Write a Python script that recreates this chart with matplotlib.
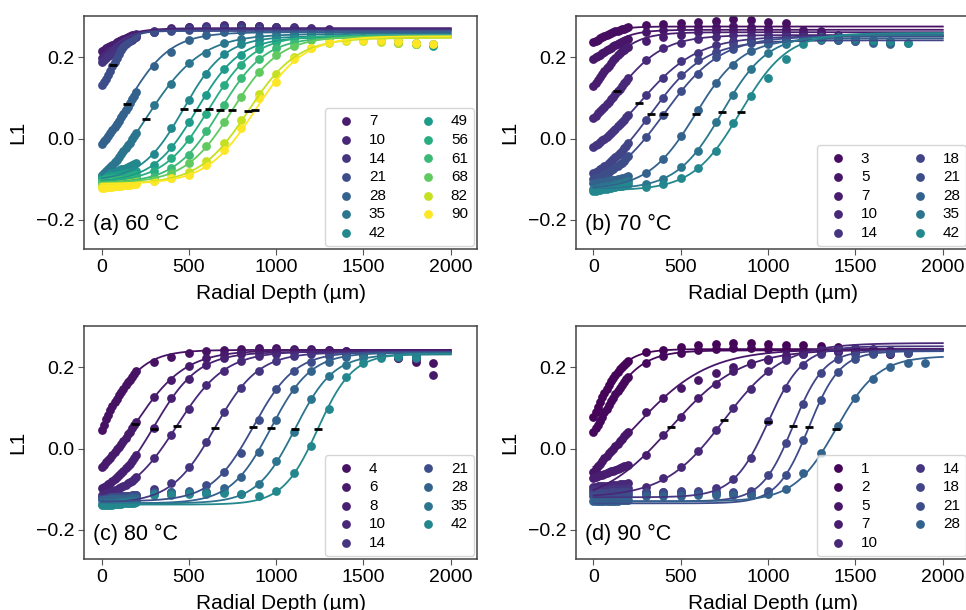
import numpy as np
import matplotlib
matplotlib.use("Agg")
import matplotlib.pyplot as plt

plt.rcParams['font.family'] = ['Liberation Sans', 'DejaVu Sans']

# measurement depths (um): dense scan near the surface, then every 100 um
DENSE_DEPTH = [0, 12.5, 25, 37.5, 50, 62.5, 75, 87.5, 100, 112.5, 125, 137.5,
               150, 162.5, 175, 187.5, 200]
SPARSE_DEPTH = [300, 400, 500, 600, 700, 800, 900, 1000, 1100, 1200,
                1300, 1400, 1500, 1600, 1700, 1800, 1900]

# ---------------- (a) 60 C ----------------
A_DAYS = [7, 10, 14, 21, 28, 35, 42, 49, 56, 61, 68, 82, 90]
A_DENSE = [
    [0.215, 0.219, 0.222, 0.225, 0.228, 0.231, 0.234, 0.237, 0.240, 0.243, 0.245, 0.248, 0.250, 0.252, 0.254, 0.256, 0.258],
    [0.198, 0.203, 0.207, 0.211, 0.215, 0.219, 0.223, 0.227, 0.230, 0.233, 0.236, 0.239, 0.242, 0.245, 0.247, 0.250, 0.252],
    [0.188, 0.193, 0.198, 0.203, 0.207, 0.212, 0.216, 0.220, 0.224, 0.228, 0.231, 0.235, 0.238, 0.241, 0.244, 0.247, 0.249],
    [0.132, 0.139, 0.147, 0.157, 0.167, 0.178, 0.188, 0.198, 0.208, 0.217, 0.225, 0.232, 0.238, 0.243, 0.248, 0.251, 0.254],
    [-0.013, -0.007, 0.000, 0.006, 0.013, 0.020, 0.028, 0.036, 0.044, 0.052, 0.061, 0.070, 0.079, 0.088, 0.097, 0.106, 0.114],
    [-0.090, -0.085, -0.080, -0.075, -0.069, -0.064, -0.058, -0.052, -0.045, -0.038, -0.031, -0.024, -0.017, -0.010, -0.002, 0.006, 0.014],
    [-0.092, -0.090, -0.088, -0.087, -0.085, -0.084, -0.082, -0.080, -0.078, -0.076, -0.074, -0.072, -0.070, -0.068, -0.065, -0.063, -0.060],
    [-0.098, -0.097, -0.095, -0.094, -0.093, -0.092, -0.091, -0.090, -0.089, -0.088, -0.087, -0.086, -0.085, -0.084, -0.082, -0.081, -0.079],
    [-0.102, -0.101, -0.100, -0.100, -0.099, -0.098, -0.097, -0.097, -0.096, -0.095, -0.094, -0.094, -0.093, -0.092, -0.091, -0.090, -0.089],
    [-0.106, -0.106, -0.105, -0.105, -0.104, -0.104, -0.103, -0.103, -0.102, -0.102, -0.101, -0.101, -0.100, -0.100, -0.099, -0.098, -0.097],
    [-0.110, -0.110, -0.109, -0.109, -0.108, -0.108, -0.107, -0.107, -0.106, -0.106, -0.105, -0.105, -0.104, -0.104, -0.103, -0.103, -0.102],
    [-0.116, -0.116, -0.115, -0.115, -0.114, -0.114, -0.113, -0.113, -0.112, -0.112, -0.111, -0.111, -0.110, -0.110, -0.109, -0.109, -0.108],
    [-0.122, -0.121, -0.120, -0.120, -0.119, -0.119, -0.118, -0.117, -0.116, -0.116, -0.115, -0.115, -0.114, -0.114, -0.113, -0.113, -0.112],
]
A_SPARSE = [
    [0.266, 0.272, 0.274, 0.276, 0.278, 0.279, 0.278, 0.276, 0.274, 0.272, 0.270],
    [0.262, 0.270, 0.274, 0.277, 0.280, 0.280, 0.278, 0.276, 0.272, 0.270],
    [0.262, 0.268, 0.272, 0.274, 0.276, 0.277, 0.276, 0.274, 0.272, 0.270, 0.268],
    [0.262, 0.266, 0.268, 0.270, 0.271, 0.270, 0.268, 0.266, 0.264],
    [0.178, 0.214, 0.242, 0.255, 0.262, 0.266, 0.268, 0.266, 0.264, 0.262, 0.260],
    [0.082, 0.135, 0.186, 0.212, 0.236, 0.246, 0.252, 0.256, 0.258, 0.258, 0.256,
     0.252, 0.248, 0.244, 0.240, 0.236, 0.232],
    [-0.038, 0.025, 0.094, 0.160, 0.208, 0.232, 0.244, 0.250, 0.254, 0.254, 0.252,
     0.250, 0.246, 0.242, 0.236, 0.232],
    [-0.066, -0.020, 0.042, 0.108, 0.172, 0.207, 0.232, 0.242, 0.248, 0.250, 0.250,
     0.248, 0.246, 0.242, 0.238, 0.232, 0.228],
    [-0.080, -0.048, 0.000, 0.060, 0.132, 0.182, 0.220, 0.238, 0.248, 0.252, 0.252,
     0.250, 0.246, 0.242, 0.238],
    [-0.094, -0.072, -0.040, 0.018, 0.082, 0.150, 0.196, 0.222, 0.238, 0.246, 0.250,
     0.248, 0.246, 0.242, 0.238, 0.234],
    [-0.100, -0.086, -0.060, -0.018, 0.040, 0.102, 0.164, 0.205, 0.228, 0.242, 0.248,
     0.250, 0.248],
    [-0.104, -0.096, -0.082, -0.055, -0.012, 0.045, 0.110, 0.158, 0.200, 0.224, 0.236,
     0.240, 0.240, 0.238, 0.236, 0.234],
    [-0.104, -0.098, -0.090, -0.064, -0.028, 0.025, 0.100, 0.140, 0.196, 0.222, 0.238,
     0.244, 0.244, 0.242, 0.240, 0.236, 0.234],
]
# sigmoid fit: (low, high, midpoint, width)
A_FIT = [(0.10, 0.272, -67, 96), (0.08, 0.270, -30, 90), (0.05, 0.268, -45, 80),
         (0.097, 0.265, 67, 50), (-0.09, 0.262, 145, 125), (-0.162, 0.258, 252, 160),
         (-0.105, 0.252, 470, 120), (-0.108, 0.250, 545, 125), (-0.108, 0.254, 615, 130),
         (-0.110, 0.250, 680, 130), (-0.110, 0.252, 750, 135), (-0.112, 0.248, 840, 140),
         (-0.112, 0.252, 880, 140)]
A_MID_X = [67, 145, 252, 470, 545, 615, 680, 750, 840, 880]
A_MID_Y = [0.181, 0.086, 0.048, 0.074, 0.071, 0.073, 0.070, 0.071, 0.068, 0.070]

# ---------------- (b) 70 C ----------------
B_DAYS = [3, 5, 7, 10, 14, 18, 21, 28, 35, 42]
B_DENSE = [
    [0.238, 0.241, 0.244, 0.247, 0.250, 0.253, 0.255, 0.258, 0.260, 0.262, 0.264, 0.266, 0.268, 0.270, 0.271, 0.273, 0.274],
    [0.196, 0.200, 0.203, 0.207, 0.210, 0.214, 0.217, 0.221, 0.224, 0.227, 0.230, 0.233, 0.236, 0.239, 0.241, 0.244, 0.246],
    [0.130, 0.137, 0.144, 0.152, 0.159, 0.166, 0.173, 0.180, 0.187, 0.193, 0.199, 0.205, 0.210, 0.215, 0.219, 0.223, 0.226],
    [0.050, 0.056, 0.062, 0.067, 0.072, 0.078, 0.084, 0.090, 0.097, 0.103, 0.110, 0.117, 0.123, 0.130, 0.136, 0.142, 0.148],
    [-0.020, -0.017, -0.013, -0.008, -0.004, 0.000, 0.005, 0.009, 0.014, 0.019, 0.024, 0.030, 0.035, 0.041, 0.046, 0.052, 0.057],
    [-0.085, -0.082, -0.079, -0.076, -0.072, -0.068, -0.064, -0.060, -0.055, -0.051, -0.046, -0.041, -0.036, -0.030, -0.024, -0.018, -0.012],
    [-0.100, -0.098, -0.096, -0.094, -0.091, -0.088, -0.085, -0.082, -0.078, -0.075, -0.071, -0.067, -0.063, -0.059, -0.054, -0.049, -0.044],
    [-0.110, -0.110, -0.109, -0.108, -0.107, -0.106, -0.105, -0.104, -0.103, -0.102, -0.101, -0.100, -0.099, -0.098, -0.096, -0.095, -0.093],
    [-0.124, -0.123, -0.122, -0.121, -0.120, -0.119, -0.118, -0.117, -0.116, -0.115, -0.113, -0.112, -0.110, -0.109, -0.107, -0.106, -0.104],
    [-0.128, -0.128, -0.127, -0.126, -0.125, -0.124, -0.123, -0.122, -0.121, -0.120, -0.119, -0.118, -0.117, -0.116, -0.114, -0.113, -0.112],
]
B_SPARSE = [
    [0.280, 0.282, 0.284, 0.286, 0.290, 0.294, 0.293, 0.288, 0.284],
    [0.262, 0.268, 0.272, 0.274, 0.276, 0.278, 0.276, 0.272, 0.270, 0.268, 0.266],
    [0.240, 0.250, 0.256, 0.262, 0.266, 0.268, 0.268, 0.266, 0.262, 0.260, 0.258, 0.256],
    [0.194, 0.222, 0.236, 0.246, 0.250, 0.254, 0.256, 0.256, 0.254, 0.252, 0.250,
     0.248, 0.246],
    [0.108, 0.150, 0.190, 0.212, 0.230, 0.240, 0.246, 0.250, 0.252, 0.250, 0.248, 0.246],
    [0.046, 0.100, 0.156, 0.194, 0.214, 0.232, 0.240, 0.244, 0.246, 0.246, 0.244,
     0.242, 0.240],
    [0.005, 0.058, 0.118, 0.160, 0.200, 0.220, 0.236, 0.242, 0.246, 0.248, 0.248,
     0.246, 0.244, 0.240, 0.236],
    [-0.086, -0.050, 0.006, 0.070, 0.138, 0.182, 0.215, 0.232, 0.240, 0.244, 0.246,
     0.244, 0.240, 0.236, 0.232],
    [-0.112, -0.100, -0.070, -0.030, 0.040, 0.108, 0.172, 0.210, 0.234, 0.246, 0.250,
     0.250, 0.248, 0.244, 0.240, 0.236],
    [-0.120, -0.112, -0.098, -0.072, -0.030, 0.038, 0.104, 0.150, 0.196, 0.232, 0.246,
     0.250, 0.248, 0.244, 0.240, 0.236],
]
B_FIT = [(0.17, 0.276, -30, 70), (0.10, 0.268, -10, 90), (0.02, 0.262, 20, 100),
         (-0.023, 0.255, 137, 133), (-0.078, 0.252, 261, 169), (-0.12, 0.242, 328, 155),
         (-0.13, 0.252, 404, 164), (-0.125, 0.247, 585, 135), (-0.125, 0.255, 737, 130),
         (-0.128, 0.260, 842, 135)]
B_MID_X = [137, 261, 328, 404, 585, 737, 842]
B_MID_Y = [0.116, 0.087, 0.061, 0.061, 0.061, 0.066, 0.066]

# ---------------- (c) 80 C ----------------
C_DAYS = [4, 6, 8, 10, 14, 21, 28, 35, 42]
C_DENSE = [
    [0.046, 0.059, 0.072, 0.083, 0.094, 0.104, 0.114, 0.123, 0.132, 0.140, 0.148, 0.156, 0.163, 0.170, 0.177, 0.184, 0.190],
    [-0.045, -0.040, -0.034, -0.028, -0.022, -0.016, -0.009, -0.002, 0.005, 0.012, 0.019, 0.027, 0.035, 0.042, 0.050, 0.058, 0.065],
    [-0.098, -0.095, -0.092, -0.088, -0.084, -0.080, -0.076, -0.071, -0.066, -0.061, -0.055, -0.049, -0.043, -0.037, -0.030, -0.023, -0.015],
    [-0.114, -0.112, -0.110, -0.109, -0.107, -0.105, -0.103, -0.101, -0.098, -0.095, -0.092, -0.089, -0.086, -0.083, -0.079, -0.075, -0.070],
    [-0.120, -0.120, -0.120, -0.119, -0.119, -0.119, -0.119, -0.118, -0.118, -0.118, -0.117, -0.117, -0.116, -0.116, -0.115, -0.115, -0.114],
    [-0.122, -0.122, -0.121, -0.121, -0.120, -0.120, -0.120, -0.119, -0.119, -0.119, -0.118, -0.118, -0.117, -0.117, -0.116, -0.116, -0.115],
    [-0.126, -0.126, -0.126, -0.126, -0.125, -0.125, -0.125, -0.124, -0.124, -0.124, -0.124, -0.123, -0.123, -0.122, -0.122, -0.121, -0.121],
    [-0.136, -0.136, -0.135, -0.135, -0.134, -0.134, -0.133, -0.133, -0.132, -0.132, -0.131, -0.131, -0.130, -0.130, -0.129, -0.129, -0.128],
    [-0.140, -0.140, -0.139, -0.139, -0.138, -0.138, -0.137, -0.137, -0.136, -0.136, -0.135, -0.135, -0.134, -0.134, -0.133, -0.133, -0.132],
]
C_SPARSE = [
    [0.214, 0.226, 0.236, 0.240, 0.244, 0.246, 0.248, 0.248, 0.246, 0.246, 0.244,
     0.240, 0.236, 0.230, 0.222, 0.214, 0.210],
    [0.128, 0.170, 0.204, 0.222, 0.232, 0.238, 0.242, 0.244, 0.244, 0.244, 0.242,
     0.240, 0.236, 0.232, 0.226, 0.220, 0.181],
    [0.050, 0.124, 0.172, 0.206, 0.224, 0.232, 0.236, 0.238, 0.240, 0.240, 0.238,
     0.236, 0.232, 0.228, 0.224, 0.222],
    [-0.022, 0.034, 0.098, 0.156, 0.192, 0.216, 0.228, 0.234, 0.238, 0.238, 0.238,
     0.236, 0.232, 0.228, 0.226, 0.224],
    [-0.100, -0.084, -0.046, 0.016, 0.090, 0.150, 0.192, 0.216, 0.228, 0.234, 0.236,
     0.236, 0.234, 0.232, 0.230],
    [-0.108, -0.106, -0.104, -0.090, -0.058, -0.012, 0.070, 0.146, 0.190, 0.214, 0.228,
     0.234, 0.236, 0.234, 0.232, 0.230],
    [-0.110, -0.108, -0.108, -0.106, -0.098, -0.070, -0.008, 0.070, 0.146, 0.190, 0.214,
     0.226, 0.232, 0.234, 0.232, 0.230],
    [-0.112, -0.112, -0.110, -0.108, -0.108, -0.112, -0.088, -0.030, 0.040, 0.122, 0.178,
     0.206, 0.222, 0.228, 0.226, 0.224],
    [-0.114, -0.114, -0.112, -0.112, -0.110, -0.112, -0.118, -0.104, -0.060, 0.006, 0.098,
     0.176, 0.212, 0.222, 0.228, 0.226],
]
C_FIT = [(-0.15, 0.243, 0, 110), (-0.122, 0.242, 191, 145), (-0.13, 0.238, 300, 128),
         (-0.13, 0.240, 430, 140), (-0.135, 0.237, 649, 125), (-0.13, 0.238, 869, 120),
         (-0.135, 0.236, 970, 115), (-0.135, 0.232, 1108, 110), (-0.138, 0.234, 1238, 100)]
C_MID_X = [191, 300, 430, 649, 869, 970, 1108, 1238]
C_MID_Y = [0.060, 0.048, 0.055, 0.050, 0.054, 0.050, 0.048, 0.048]

# ---------------- (d) 90 C ----------------
D_DAYS = [1, 2, 5, 7, 10, 14, 18, 21, 28]
D_DENSE = [
    [0.079, 0.091, 0.103, 0.115, 0.126, 0.137, 0.147, 0.157, 0.166, 0.174, 0.182, 0.189, 0.196, 0.202, 0.207, 0.212, 0.216],
    [0.040, 0.050, 0.059, 0.069, 0.079, 0.089, 0.098, 0.107, 0.116, 0.125, 0.134, 0.142, 0.150, 0.157, 0.164, 0.171, 0.177],
    [-0.057, -0.050, -0.044, -0.037, -0.031, -0.024, -0.018, -0.012, -0.006, 0.000, 0.006, 0.012, 0.018, 0.024, 0.030, 0.036, 0.042],
    [-0.072, -0.070, -0.068, -0.066, -0.064, -0.062, -0.060, -0.058, -0.056, -0.054, -0.052, -0.050, -0.048, -0.046, -0.044, -0.042, -0.040],
    [-0.094, -0.094, -0.093, -0.093, -0.092, -0.092, -0.091, -0.091, -0.090, -0.090, -0.089, -0.089, -0.088, -0.088, -0.087, -0.087, -0.086],
    [-0.102, -0.102, -0.102, -0.102, -0.101, -0.101, -0.101, -0.101, -0.100, -0.100, -0.100, -0.100, -0.099, -0.099, -0.099, -0.099, -0.098],
    [-0.110, -0.110, -0.110, -0.110, -0.109, -0.109, -0.109, -0.109, -0.108, -0.108, -0.108, -0.108, -0.107, -0.107, -0.107, -0.107, -0.106],
    [-0.118, -0.118, -0.118, -0.118, -0.117, -0.117, -0.117, -0.117, -0.116, -0.116, -0.116, -0.116, -0.115, -0.115, -0.115, -0.115, -0.114],
    [-0.130, -0.130, -0.130, -0.130, -0.129, -0.129, -0.129, -0.129, -0.128, -0.128, -0.128, -0.128, -0.127, -0.127, -0.127, -0.127, -0.126],
]
D_SPARSE = [
    [0.238, 0.244, 0.250, 0.254, 0.258, 0.260, 0.260, 0.258, 0.256, 0.254, 0.252,
     0.250, 0.248, 0.246],
    [0.212, 0.228, 0.236, 0.242, 0.246, 0.248, 0.248, 0.246, 0.246, 0.244, 0.242,
     0.240, 0.238, 0.236, 0.234],
    [0.089, 0.124, 0.150, 0.170, 0.186, 0.202, 0.210, 0.218, 0.226, 0.232, 0.236,
     0.238, 0.238, 0.236],
    [-0.015, 0.034, 0.078, 0.125, 0.160, 0.190, 0.208, 0.220, 0.230, 0.236, 0.240,
     0.240, 0.238, 0.236, 0.234],
    [-0.094, -0.072, -0.046, -0.005, 0.046, 0.100, 0.148, 0.192, 0.218, 0.232, 0.242,
     0.246, 0.246, 0.244, 0.240],
    [-0.106, -0.106, -0.104, -0.104, -0.098, -0.074, -0.022, 0.068, 0.150, 0.206, 0.232,
     0.242, 0.246, 0.244, 0.242, 0.238],
    [-0.108, -0.108, -0.106, -0.108, -0.106, -0.108, -0.104, -0.066, 0.014, 0.110, 0.186,
     0.220, 0.234, 0.238, 0.238, 0.236],
    [-0.112, -0.112, -0.110, -0.110, -0.110, -0.110, -0.112, -0.104, -0.064, 0.020, 0.120,
     0.188, 0.220, 0.232, 0.236, 0.236],
    [-0.116, -0.116, -0.116, -0.114, -0.114, -0.114, -0.114, -0.112, -0.100, -0.060, -0.010,
     0.055, 0.124, 0.172, 0.200, 0.210, 0.212],
]
D_FIT = [(-0.10, 0.245, -5, 85), (-0.10, 0.242, 40, 110), (-0.14, 0.245, 235, 210),
         (-0.14, 0.244, 442, 200), (-0.12, 0.260, 747, 170), (-0.12, 0.252, 1000, 100),
         (-0.13, 0.242, 1143, 90), (-0.135, 0.240, 1233, 90), (-0.13, 0.228, 1389, 120)]
D_MID_X = [442, 747, 1000, 1143, 1233, 1389]
D_MID_Y = [0.052, 0.070, 0.066, 0.056, 0.052, 0.049]

PANELS = [
    ("(a) 60 °C", A_DAYS, A_DENSE, A_SPARSE, A_FIT, A_MID_X, A_MID_Y),
    ("(b) 70 °C", B_DAYS, B_DENSE, B_SPARSE, B_FIT, B_MID_X, B_MID_Y),
    ("(c) 80 °C", C_DAYS, C_DENSE, C_SPARSE, C_FIT, C_MID_X, C_MID_Y),
    ("(d) 90 °C", D_DAYS, D_DENSE, D_SPARSE, D_FIT, D_MID_X, D_MID_Y),
]


def sigmoid(x, lo, hi, x0, w):
    return lo + (hi - lo) / (1 + np.exp(-(x - x0) / w))


cmap = plt.get_cmap('viridis')
fig = plt.figure(figsize=(9.66, 6.10), dpi=100)
positions = [(0.0870, 0.5918), (0.5963, 0.5918), (0.0870, 0.0836), (0.5963, 0.0836)]
xfit = np.linspace(0, 2000, 400)

for (left, bottom), (title, days, dense, sparse, fits, mid_x, mid_y) in zip(positions, PANELS):
    ax = fig.add_axes([left, bottom, 0.4068, 0.3820])
    for day, yd, ys, fit in zip(days, dense, sparse, fits):
        c = cmap(day / 90)
        x = DENSE_DEPTH + SPARSE_DEPTH[:len(ys)]
        ax.scatter(x, yd + ys, s=40, color=c, linewidths=0, label=str(day), zorder=2)
        ax.plot(xfit, sigmoid(xfit, *fit), color=c, lw=1.3, zorder=3)
    ax.plot(mid_x, mid_y, ls='none', marker='_', color='k', ms=6, mew=2, zorder=4)

    ax.text(0.022, 0.08, title, transform=ax.transAxes, fontsize=15.5, va='baseline')
    ax.set_xlim(-100, 2150)
    ax.set_ylim(-0.272, 0.302)
    ax.set_xticks([0, 500, 1000, 1500, 2000])
    ax.set_yticks([-0.2, 0.0, 0.2])
    ax.tick_params(labelsize=14, length=4, color='#555555', pad=3)
    for sp in ax.spines.values():
        sp.set_color('#444444')
        sp.set_linewidth(1.1)
    ax.set_xlabel('Radial Depth (µm)', fontsize=15, labelpad=6)
    ax.set_ylabel('L1', fontsize=15, labelpad=6)
    ax.legend(ncol=2, loc='lower right', fontsize=11, scatterpoints=1,
              borderaxespad=0.2, labelspacing=0.3, handletextpad=0.5,
              columnspacing=1.75, borderpad=0.4)

fig.savefig('out.png', dpi=100)
